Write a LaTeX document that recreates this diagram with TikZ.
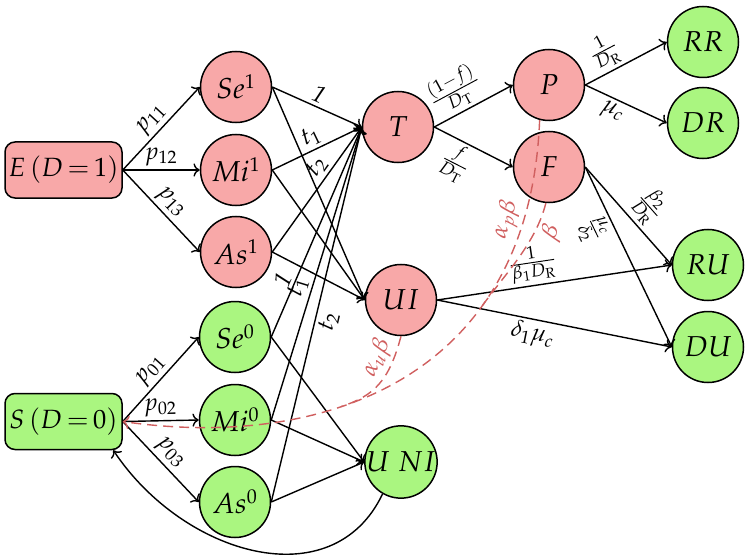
\documentclass[tikz,border=0pt]{standalone}
\usepackage{mathpazo}
\usetikzlibrary{arrows.meta}
\definecolor{pinkfill}{RGB}{248,168,168}
\definecolor{greenfill}{RGB}{170,246,128}
\definecolor{dashred}{RGB}{208,95,95}
\begin{document}
\begin{tikzpicture}[x=0.5pt,y=-0.5pt,
  state/.style={circle,draw,line width=0.75pt,minimum size=35.5pt,inner sep=0pt,font=\Large},
  redstate/.style={state,fill=pinkfill},
  greenstate/.style={state,fill=greenfill},
  startbox/.style={rectangle,rounded corners=5pt,draw,line width=0.75pt,minimum width=58.5pt,minimum height=28pt,inner sep=1pt,font=\fontsize{13.2}{15}\selectfont},
  edge/.style={->,line width=0.7pt},
  lab/.style={font=\large,sloped,inner sep=1.5pt},
  dashline/.style={dashred,line width=0.7pt,dash pattern=on 5pt off 3pt},
]
\useasboundingbox (0,0) rectangle (750,556);

% nodes
\node[startbox,fill=pinkfill] (E) at (63.5,170) {$E\,(D{\,=\,}1)$};
\node[startbox,fill=greenfill] (S) at (63.5,421.5) {$S\,(D{\,=\,}0)$};
\node[redstate] (Se1) at (236,87) {$Se^1$};
\node[redstate] (Mi1) at (236,170) {$Mi^1$};
\node[redstate] (As1) at (236,252) {$As^1$};
\node[greenstate] (Se0) at (235,337) {$Se^0$};
\node[greenstate] (Mi0) at (235,420) {$Mi^0$};
\node[greenstate] (As0) at (235,502) {$As^0$};
\node[redstate] (T) at (398,127) {$T$};
\node[redstate] (UI) at (401,300) {$UI$};
\node[greenstate] (UNI) at (401,462) {$U\;NI$};
\node[redstate] (P) at (549,85) {$P$};
\node[redstate] (F) at (549,167) {$F$};
\node[greenstate] (RR) at (703,42) {$RR$};
\node[greenstate] (DR) at (703,123) {$DR$};
\node[greenstate] (RU) at (708,265) {$RU$};
\node[greenstate] (DU) at (708,347) {$DU$};

% from E and S
\draw[edge] (E.east) -- node[lab,above]{$p_{11}$} (Se1.west);
\draw[edge] (E.east) -- node[lab,above]{$p_{12}$} (Mi1.west);
\draw[edge] (E.east) -- node[lab,above]{$p_{13}$} (As1.west);
\draw[edge] (S.east) -- node[lab,above]{$p_{01}$} (Se0.west);
\draw[edge] (S.east) -- node[lab,above]{$p_{02}$} (Mi0.west);
\draw[edge] (S.east) -- node[lab,above]{$p_{03}$} (As0.west);

% to T
\draw[edge] (Se1.east) -- node[lab,above,pos=0.47]{$\mathit{1}$} (T.west);
\draw[edge] (Mi1.east) -- node[lab,above,pos=0.5]{$t_1$} (T.west);
\draw[edge] (As1.east) -- node[lab,above,pos=0.62]{$t_2$} (T.west);
\draw[edge] (Se0.east) -- node[lab,above,pos=0.25]{$\mathit{1}$} (T.west);
\draw[edge] (Mi0.east) -- node[lab,above,pos=0.44]{$t_1$} (T.west);
\draw[edge] (As0.east) -- node[lab,below,pos=0.49]{$t_2$} (T.west);

% to UI and UNI
\draw[edge] (Se1.east) -- (UI.west);
\draw[edge] (Mi1.east) -- (UI.west);
\draw[edge] (As1.east) -- (UI.west);
\draw[edge] (Se0.east) -- (UNI.west);
\draw[edge] (Mi0.east) -- (UNI.west);
\draw[edge] (As0.east) -- (UNI.west);

% right part
\draw[edge] (T.east) -- node[lab,above,pos=0.4]{$\frac{(1-f)}{D_\mathrm{T}}$} (P.west);
\draw[edge] (T.east) -- node[lab,below,pos=0.4]{$\frac{f}{D_\mathrm{T}}$} (F.west);
\draw[edge] (P.east) -- node[lab,above,pos=0.35]{$\frac{1}{D_\mathrm{R}}$} (RR.west);
\draw[edge] (P.east) -- node[lab,below,pos=0.4]{$\mu_c$} (DR.west);
\draw[edge] (F.east) -- node[lab,above,pos=0.55]{$\frac{\beta_2}{D_\mathrm{R}}$} (RU.west);
\draw[edge] (F.east) -- node[lab,below,pos=0.3]{$\frac{\mu_c}{\delta_2}$} (DU.west);
\draw[edge] (UI.east) -- node[lab,above,pos=0.42]{$\frac{1}{\beta_1 D_\mathrm{R}}$} (RU.west);
\draw[edge] (UI.east) -- node[lab,below,pos=0.42]{$\delta_1\mu_c$} (DU.west);

% return from UNI to S
\draw[edge] (UNI.240) .. controls +(-50,105) and +(70,105) .. (S.-30);

% dashed infection paths
\draw[dashline,->] (P.-105) .. controls +(-10,261) and +(197,28.5) ..
   node[lab,above,pos=0.15,text=dashred]{$\alpha_p\beta$}
   coordinate[pos=0.3] (mF) coordinate[pos=0.62] (mU) (S.east);
\draw[dashline] (F.-95) .. controls +(-10,40) and +(23,-32) ..
   node[lab,below,pos=0.2,text=dashred]{$\beta$} (mF);
\draw[dashline] (UI.-90) .. controls +(-12,45) and +(33,-11) ..
   node[lab,above,pos=0.25,text=dashred]{$\alpha_u\beta$} (mU);
\end{tikzpicture}
\end{document}
